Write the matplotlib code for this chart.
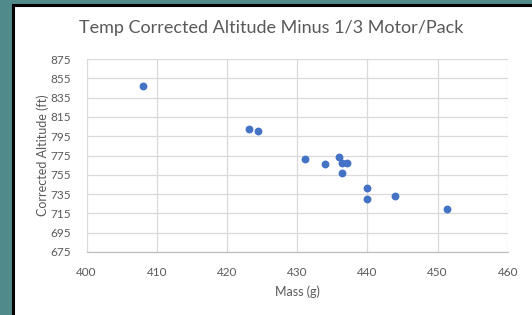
import matplotlib.pyplot as plt
from matplotlib.patches import Rectangle

# data
mass = [408.0, 423.1, 424.5, 431.1, 434.0, 436.0, 436.4, 437.1, 436.4, 440.0, 440.0, 444.0, 451.4]
altitude = [847.5, 802.9, 800.8, 771.6, 766.4, 773.3, 767.4, 767.4, 757.0, 741.6, 730.2, 732.6, 719.5]
x_ticks = [400, 410, 420, 430, 440, 450, 460]
y_ticks = [675, 695, 715, 735, 755, 775, 795, 815, 835, 855, 875]

plt.rcParams['font.family'] = ['Lato', 'DejaVu Sans']
text_gray = '#595959'

W, H = 532, 315
fig = plt.figure(figsize=(W / 100, H / 100), dpi=100)
fig.patch.set_facecolor('#518a8a')

# white chart panel with black frame (slide background behind it)
panel = Rectangle((13 / W, -0.05), 1.1, (H - 5) / H + 0.05, transform=fig.transFigure,
                  facecolor='white', edgecolor='black', linewidth=2.2, zorder=-5)
fig.add_artist(panel)

ax = fig.add_axes([86.5 / W, 63 / H, (507.7 - 86.5) / W, (252 - 59) / H])
ax.set_zorder(2)
ax.set_facecolor('white')

ax.scatter(mass, altitude, s=32, color='#4472C4', zorder=3, linewidths=0)

ax.set_xlim(400, 460)
ax.set_ylim(675, 875)
ax.set_xticks(x_ticks)
ax.set_yticks(y_ticks)
ax.grid(True, color='#d9d9d9', linewidth=0.9, zorder=0)
ax.set_axisbelow(True)
for side in ['top', 'right', 'left']:
    ax.spines[side].set_visible(False)
ax.spines['bottom'].set_color('#bfbfbf')
ax.spines['bottom'].set_linewidth(0.9)
ax.tick_params(length=0, labelsize=8.5, labelcolor=text_gray)
ax.tick_params(axis='x', pad=11)
ax.tick_params(axis='y', pad=11)

ax.set_xlabel('Mass (g)', fontsize=9, color=text_gray, labelpad=5)
ax.set_ylabel('Corrected Altitude (ft)', fontsize=9, color=text_gray, labelpad=1)

fig.text(271 / W, 1 - 28 / H, 'Temp Corrected Altitude Minus 1/3 Motor/Pack',
         ha='center', va='center', fontsize=13, color=text_gray, zorder=3)

fig.savefig('out.png', dpi=100, facecolor=fig.get_facecolor())
